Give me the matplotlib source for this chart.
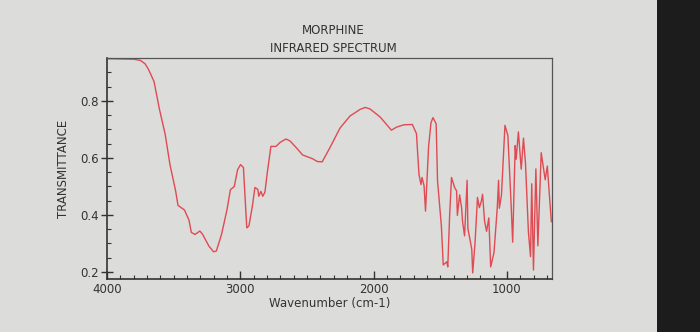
import matplotlib.pyplot as plt
from matplotlib.patches import Rectangle
from matplotlib.ticker import MultipleLocator

# morphine IR spectrum, wavenumber (cm-1) vs transmittance
wavenumber = [4000, 3800, 3750, 3715, 3689, 3648, 3607, 3564, 3529, 3486, 3468, 3420,
              3386, 3368, 3340, 3304, 3283, 3236, 3201, 3180, 3141, 3100,
              3075, 3046, 3021, 2999, 2977, 2967, 2952, 2936, 2910, 2891,
              2869, 2862, 2846, 2832, 2816, 2798, 2771, 2733, 2702, 2658,
              2627, 2570, 2533, 2460, 2423, 2386, 2331, 2253, 2177, 2101,
              2063, 2026, 1951, 1867, 1827, 1772, 1710, 1679, 1660, 1645,
              1637, 1622, 1611, 1588, 1570, 1555, 1531, 1521, 1492, 1478,
              1451, 1444, 1430, 1416, 1392, 1378, 1372, 1355, 1340, 1333,
              1318, 1299, 1293, 1278, 1264, 1257, 1239, 1221, 1207, 1191,
              1183, 1168, 1153, 1136, 1122, 1097, 1073, 1063, 1057, 1041,
              1015, 993, 971, 957, 938, 931, 914, 893, 876, 861,
              839, 823, 814, 801, 783, 768, 743, 728, 713, 697,
              682, 667]
transmittance = [0.948, 0.946, 0.942, 0.930, 0.910, 0.868, 0.770, 0.682, 0.578, 0.484, 0.433, 0.417,
                 0.382, 0.338, 0.331, 0.343, 0.331, 0.290, 0.270, 0.273, 0.332, 0.419,
                 0.488, 0.499, 0.558, 0.576, 0.566, 0.479, 0.354, 0.361, 0.430, 0.496,
                 0.489, 0.465, 0.482, 0.465, 0.479, 0.548, 0.640, 0.640, 0.654, 0.666,
                 0.659, 0.630, 0.610, 0.597, 0.587, 0.586, 0.633, 0.704, 0.747, 0.770,
                 0.777, 0.771, 0.743, 0.697, 0.708, 0.716, 0.717, 0.685, 0.542, 0.506,
                 0.531, 0.502, 0.413, 0.639, 0.723, 0.741, 0.719, 0.520, 0.361, 0.224,
                 0.235, 0.217, 0.398, 0.531, 0.495, 0.484, 0.398, 0.470, 0.423, 0.376,
                 0.326, 0.521, 0.351, 0.315, 0.279, 0.196, 0.305, 0.461, 0.425, 0.450,
                 0.472, 0.378, 0.342, 0.389, 0.217, 0.268, 0.423, 0.521, 0.423, 0.470,
                 0.714, 0.678, 0.460, 0.304, 0.643, 0.595, 0.691, 0.560, 0.669, 0.581,
                 0.340, 0.253, 0.509, 0.206, 0.561, 0.291, 0.618, 0.570, 0.523, 0.571,
                 0.472, 0.376]

x_major = [4000, 3000, 2000, 1000]
y_major = [0.2, 0.4, 0.6, 0.8]

bg = '#dcdcda'
ink = '#333333'

fig = plt.figure(figsize=(7, 3.32), dpi=100, facecolor=bg)
ax = fig.add_axes([0.153, 0.160, 0.635, 0.665], facecolor=bg)

ax.plot(wavenumber, transmittance, color='#e04a52', lw=1.0)

ax.set_xlim(4000, 665)
ax.set_ylim(0.175, 0.95)

ax.set_xticks(x_major)
ax.set_yticks(y_major)
ax.xaxis.set_minor_locator(MultipleLocator(100))
ax.yaxis.set_minor_locator(MultipleLocator(0.05))
ax.tick_params(axis='x', which='major', direction='in', length=6, width=1, colors=ink, labelsize=8.5, pad=3)
ax.tick_params(axis='x', which='minor', direction='in', length=3, width=0.8, colors=ink)
ax.tick_params(axis='y', which='major', direction='inout', length=8, width=1, colors=ink, labelsize=8.5, pad=2)
ax.tick_params(axis='y', which='minor', direction='in', length=3, width=0.8, colors=ink)

for side in ['left', 'bottom']:
    ax.spines[side].set_color(ink)
    ax.spines[side].set_linewidth(1.2)
for side in ['top', 'right']:
    ax.spines[side].set_color('#555555')
    ax.spines[side].set_linewidth(0.9)

ax.set_xlabel('Wavenumber (cm-1)', fontsize=8.5, color=ink, labelpad=1)
ax.set_ylabel('TRANSMITTANCE', fontsize=8.5, color=ink, labelpad=7)

fig.text(0.476, 0.909, 'MORPHINE', ha='center', va='center', fontsize=8.5, color=ink)
fig.text(0.476, 0.855, 'INFRARED SPECTRUM', ha='center', va='center', fontsize=8.5, color=ink)

# dark monitor bezel along the right edge
fig.patches.append(Rectangle((0.939, 0), 0.061, 1, transform=fig.transFigure,
                             facecolor='#1c1c1c', edgecolor='none'))

fig.savefig('out.png', dpi=100, facecolor=bg)
